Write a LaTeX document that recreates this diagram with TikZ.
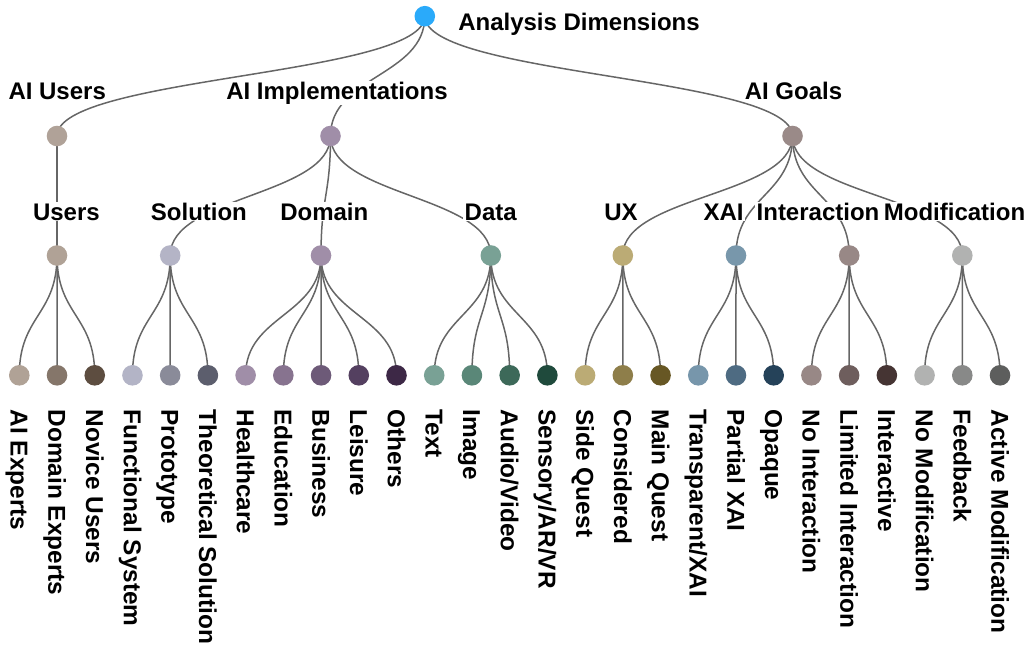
\documentclass[tikz,border=0pt]{standalone}
\usepackage{fontspec}
\setmainfont{Liberation Sans}
\usetikzlibrary{calc,backgrounds}
\definecolor{edgegray}{HTML}{666666}
\tikzset{
  dot/.style={circle,inner sep=0pt,minimum size=20.6pt,draw=none},
  edge/.style={draw=edgegray,line width=1.5pt},
  lbl/.style={font=\fontsize{24}{28}\selectfont\bfseries,inner xsep=1.5pt,inner ysep=1pt,anchor=base,fill=white},
  leaflbl/.style={font=\fontsize{24.4}{28}\selectfont\bfseries,inner sep=0pt,anchor=base west,rotate=-90},
}
\newcommand\lnk[2]{%
  \begin{pgfonlayer}{background}
    \path ($(#1.center)!0.5!(#2.center)$) coordinate (lnkmid);
    \draw[edge] (#1.center) .. controls (lnkmid -| #1.center) and (lnkmid -| #2.center) .. (#2.center);
  \end{pgfonlayer}}
\newcommand\hlabel[3]{% name, position, text
  \node[lbl] (#1) at #2 {#3};}
\newcommand\inner[5]{% name, x, y, colour, parent
  \definecolor{col#1}{HTML}{#4}
  \node[dot,fill=col#1] (#1) at (#2,#3) {};
  \lnk{#5}{#1}}
\newcommand\leaf[4]{% index, colour, text, parent
  \definecolor{leafcol#1}{HTML}{#2}
  \node[dot,fill=leafcol#1] (leaf#1) at ({19.3+37.72*#1},375.3) {};
  \node[leaflbl] (leaflabel#1) at ({19.3+37.72*#1-8.7},409.5) {#3};
  \lnk{#4}{leaf#1}}
\begin{document}
\begin{tikzpicture}[x=1pt,y=-1pt]
\useasboundingbox (0,0) rectangle (1029,648);
\definecolor{rootcol}{HTML}{2AAAFA}
\node[dot,fill=rootcol] (root) at (424.8,16.2) {};
% level 1
\inner{aiusers}{57.0}{136}{B0A298}{root}
\inner{aiimpl}{330.5}{136}{A08EA8}{root}
\inner{aigoals}{792.5}{136}{9A8A88}{root}
% level 2
\inner{users}{57.0}{255.5}{B0A296}{aiusers}
\inner{solution}{170.2}{255.5}{B4B4C6}{aiimpl}
\inner{domain}{321.0}{255.5}{A08EA8}{aiimpl}
\inner{data}{490.8}{255.5}{79A195}{aiimpl}
\inner{ux}{622.8}{255.5}{BBAB75}{aigoals}
\inner{xai}{736.0}{255.5}{7897AB}{aigoals}
\inner{interaction}{849.2}{255.5}{988886}{aigoals}
\inner{modification}{962.3}{255.5}{B1B2B1}{aigoals}
% leaves
\leaf{0}{B0A296}{AI Experts}{users}
\leaf{1}{85766A}{Domain Experts}{users}
\leaf{2}{5D4D40}{Novice Users}{users}
\leaf{3}{B3B4C6}{Functional System}{solution}
\leaf{4}{8A8B99}{Prototype}{solution}
\leaf{5}{5C5E6D}{Theoretical Solution}{solution}
\leaf{6}{A08EA8}{Healthcare}{domain}
\leaf{7}{87738F}{Education}{domain}
\leaf{8}{6D5A78}{Business}{domain}
\leaf{9}{544060}{Leisure}{domain}
\leaf{10}{3D2846}{Others}{domain}
\leaf{11}{79A195}{Text}{data}
\leaf{12}{5A8778}{Image}{data}
\leaf{13}{3D6959}{Audio/Video}{data}
\leaf{14}{1F4A3C}{Sensory/AR/VR}{data}
\leaf{15}{BBAB75}{Side Quest}{ux}
\leaf{16}{8E7E4A}{Considered}{ux}
\leaf{17}{675724}{Main Quest}{ux}
\leaf{18}{7796AB}{Transparent/XAI}{xai}
\leaf{19}{4E6B82}{Partial XAI}{xai}
\leaf{20}{254259}{Opaque}{xai}
\leaf{21}{988886}{No Interaction}{interaction}
\leaf{22}{6E5E5D}{Limited Interaction}{interaction}
\leaf{23}{453433}{Interactive}{interaction}
\leaf{24}{B1B2B1}{No Modification}{modification}
\leaf{25}{888988}{Feedback}{modification}
\leaf{26}{5D5E5D}{Active Modification}{modification}
% labels on white ground
\hlabel{rootlabel}{(579,30.5)}{Analysis Dimensions}
\hlabel{aiuserslabel}{(57.2,99.3)}{AI Users}
\hlabel{aiimpllabel}{(337,99.3)}{AI Implementations}
\hlabel{aigoalslabel}{(793.5,99.3)}{AI Goals}
\hlabel{userslabel}{(66.4,220)}{Users}
\hlabel{solutionlabel}{(198.9,220)}{Solution}
\hlabel{domainlabel}{(324.3,220)}{Domain}
\hlabel{datalabel}{(490.7,220)}{Data}
\hlabel{uxlabel}{(621,220)}{UX}
\hlabel{xailabel}{(723.5,220)}{XAI}
\hlabel{interactionlabel}{(818,220)}{Interaction}
\hlabel{modificationlabel}{(954.5,220)}{Modification}
\end{tikzpicture}
\end{document}
